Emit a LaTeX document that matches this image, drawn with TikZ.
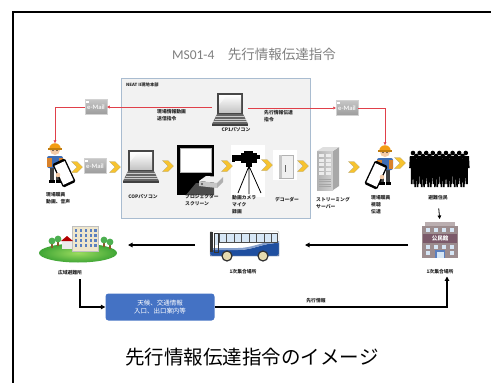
\documentclass[tikz,border=0pt]{standalone}
\usepackage{fontspec}
\setmainfont{Carlito}
\newfontfamily\jp{Noto Sans CJK JP}
\usetikzlibrary{arrows.meta,shapes.symbols,calc}

\definecolor{redline}{HTML}{E0404A}
\definecolor{yellowarrow}{HTML}{F7C32E}
\definecolor{chevedge}{HTML}{B0A070}
\definecolor{hqfill}{HTML}{F2F2F2}
\definecolor{hqedge}{HTML}{A9BCD0}
\definecolor{infoblue}{HTML}{4472C4}
\definecolor{titlegray}{HTML}{7F7F7F}
\definecolor{skin}{HTML}{F5CBA7}
\definecolor{helmet}{HTML}{F39C12}
\definecolor{shirtblue}{HTML}{3E6DB5}
\definecolor{vest}{HTML}{D9822B}
\definecolor{parklight}{HTML}{9BDB5F}
\definecolor{parkdark}{HTML}{3FA535}
\definecolor{bldgbeige}{HTML}{EFE6CC}
\definecolor{winblue}{HTML}{5A7FBF}
\definecolor{treegreen}{HTML}{4CAF50}
\definecolor{trunk}{HTML}{8B5A2B}
\definecolor{busblue}{HTML}{1F4FA0}
\definecolor{winlight}{HTML}{D6E6F5}
\definecolor{bldgmauve}{HTML}{9C8C8E}
\definecolor{signdark}{HTML}{7B5A6A}
\definecolor{wheel}{HTML}{E6DBB0}

\tikzset{
  % notebook computer, origin near the middle of the screen
  pics/laptop/.style={code={
    \fill[black!72] (-13,-17) rectangle (13,4);
    \shade[top color=white, bottom color=gray!45] (-11,-15) rectangle (11,2);
    \fill[white, opacity=0.5] (-11,-15) -- (-3,-15) -- (-11,-5) -- cycle;
    \fill[black!60] (-13,4) -- (13,4) -- (18,14) -- (-18,14) -- cycle;
    \foreach \k in {6.5,9,11.5}
      \draw[gray!40, line width=0.7pt] ({-13-(\k-4)*0.5},\k) -- ({13+(\k-4)*0.5},\k);
    \fill[black!75] (-18,14) rectangle (18,15.5);
  }},
  % field worker holding a smartphone, origin at the head centre
  pics/worker/.style={code={
    \fill[black!75] (-5,15) rectangle (-1,31);
    \fill[black!75] (1,15) rectangle (5,31);
    \fill[black] (-6,30) rectangle (-0.5,33);
    \fill[black] (0.5,30) rectangle (6,33);
    \fill[shirtblue, rounded corners=2pt] (-8,6) rectangle (8,18);
    \fill[vest] (-8,8) rectangle (-3.5,17);
    \fill[vest] (3.5,8) rectangle (8,17);
    \fill[skin] (0,0) circle[radius=5];
    \fill[black] (-2,0.5) circle[radius=0.7];
    \fill[black] (2,0.5) circle[radius=0.7];
    \fill[helmet] (-5.8,-1) arc[start angle=180, end angle=360, radius=5.8] -- cycle;
    \fill[helmet!80!black] (-7,-1.6) rectangle (7,0);
    \begin{scope}[shift={(9,23)}, rotate=25]
      \fill[black, rounded corners=1.5pt] (-7,-13) rectangle (7,13);
      \fill[white] (-5.6,-10.5) rectangle (5.6,10.5);
    \end{scope}
    \fill[skin] (3,25) circle[radius=2.3];
  }},
  % one standing silhouette, origin at the head
  pics/figure/.style={code={
    \fill (0,0) circle[radius=2.3];
    \fill (-3.2,3) -- (3.2,3) -- (3.8,15) -- (2.2,15) -- (2,31) -- (0.4,31)
          -- (0,19) -- (-0.4,31) -- (-2,31) -- (-2.2,15) -- (-3.8,15) -- cycle;
  }},
  lbl/.style={font=\jp\bfseries\fontsize{4.8}{6.9}\selectfont, align=left,
              inner sep=0pt, text=black!85},
  lblc/.style={lbl, align=center},
  icon/.style={inner sep=0pt, outer sep=0pt},
  mail/.style={top color=gray!45, bottom color=gray!78, draw=gray!35,
               line width=0.3pt, minimum width=22pt, minimum height=15pt,
               inner sep=0pt, text=white!92!gray,
               font=\bfseries\fontsize{6.6}{7}\selectfont},
  chev/.style={shape=signal, signal to=east, signal from=west,
               fill=yellowarrow, draw=chevedge, line width=0.3pt,
               minimum width=6pt, minimum height=11pt, inner sep=0pt},
  redlink/.style={draw=redline, line width=0.45pt,
                  -{Triangle[length=2.6pt,width=2.8pt]}},
  blklink/.style={draw=black, line width=1.1pt,
                  -{Triangle[length=4.5pt,width=4.5pt]}},
}

\begin{document}
\begin{tikzpicture}[x=1pt,y=-1pt]
\useasboundingbox (0,0) rectangle (491,383);
\clip (0,0) rectangle (491,383);
\fill[white] (0,0) rectangle (491,383);

% slide frame
\draw[line width=1.3pt] (13,12) rectangle (530,420);

% title
\node[text=titlegray, font=\fontsize{13.5}{14}\selectfont] (title) at (254,54)
  {MS01-4\hspace{1em}{\jp 先行情報伝達指令}};

% headquarters area
\node[draw=hqedge, fill=hqfill, line width=0.6pt, minimum width=189pt,
      minimum height=140pt, inner sep=0pt] (hq) at (215.5,148) {};
\node[lbl, font=\jp\bfseries\fontsize{4.3}{5}\selectfont, anchor=north west]
  (hqlbl) at (126,83) {NEAT II現地本部};

% CP1 computer
\node[icon, minimum width=36pt, minimum height=34pt] (cp1) at (230,110) {};
\pic at (230,110) {laptop};
\node[lblc] (cp1lbl) at (236,130) {CP1パソコン};

\node[lbl, anchor=north west] (sendcmd) at (157,109.5) {現場情報動画\\送信指令};
\node[lbl, anchor=north west] (advcmd) at (264,110) {先行情報伝達\\指令};

% e-mail boxes
\node[mail] (mailL) at (96,107) {e-Mail};
\node[mail] (mailR) at (347,108) {e-Mail};
\node[mail] (mailM) at (95,166) {e-Mail};
\foreach \m in {mailL,mailR,mailM}
  \fill[white] ([xshift=1.5pt,yshift=-1.5pt]\m.north west) rectangle +(2.4,2.4);

% left worker
\node[icon, minimum width=16pt, minimum height=50pt] (personL) at (55,168) {};
\pic at (55,150) {worker};
\node[lbl, anchor=north west] (personLlbl) at (46,192) {現場職員\\動画、音声};

% COP computer
\node[icon, minimum width=36pt, minimum height=34pt] (cop) at (141,166) {};
\pic at (141,167) {laptop};
\node[lblc] (coplbl) at (143,197) {COPパソコン};

% projector and screen
\node[icon, minimum width=38pt, minimum height=50pt] (proj) at (195,170) {};
\fill[black] (177,145) rectangle (214,195);
\fill[white] (180.5,148) rectangle (211,172);
\draw[gray!60, line width=0.3pt] (180.5,148) rectangle (211,172);
\fill[black!70] (186,195) -- (196,183) -- (214,183) -- (214,195) -- cycle;
\fill[gray!12] (199,181) -- (206,176) -- (223,177) -- (217,183) -- cycle;
\fill[gray!45] (199,181) -- (217,183) -- (217,188) -- (199,186) -- cycle;
\fill[gray!62] (217,183) -- (223,177) -- (223,182) -- (217,188) -- cycle;
\fill[black!70] (202,184) circle[radius=1.2];
\node[lbl, anchor=north west] (projlbl) at (185,194) {プロジェクター\\スクリーン};

% video camera on tripod
\node[icon, minimum width=34pt, minimum height=52pt] (cam) at (248,171) {};
\fill[white] (231,145) rectangle (265,197);
\fill[black] (241,153) rectangle (257,163);
\fill[black] (234,155) rectangle (242,161);
\fill[black] (232,154.5) rectangle (234.5,161.5);
\fill[black] (244,150.5) rectangle (253,153);
\fill[black] (257,155) rectangle (260,159);
\fill[black] (246,163) rectangle (252,167);
\draw[black, line width=0.8pt] (249,166) -- (238,193) (249,166) -- (249,194)
  (249,166) -- (261,193);
\node[lbl, anchor=north west] (camlbl) at (232,195) {動画カメラ\\マイク\\録画};

% decoder
\node[icon, minimum width=24pt, minimum height=30pt] (dec) at (285,165) {};
\fill[white] (273,150) rectangle (297,180);
\fill[gray!12] (279,155) rectangle (293,178);
\draw[gray!60, line width=0.4pt] (279,155) rectangle (293,178);
\fill[gray!45] (279,155) rectangle (282,178);
\fill[black!60] (285,165) rectangle (286.2,172);
\node[lblc] (declbl) at (287,200) {デコーダー};

% streaming server
\node[icon, minimum width=22pt, minimum height=43pt] (srv) at (328,168.5) {};
\shade[left color=gray!60, right color=gray!35] (317,151) rectangle (333,190);
\fill[gray!68] (333,151) -- (339,147) -- (339,186) -- (333,190) -- cycle;
\fill[gray!25] (317,151) -- (323,147) -- (339,147) -- (333,151) -- cycle;
\foreach \r in {0,...,4} {
  \fill[gray!15] (319,{154+\r*4.5}) rectangle +(5,3);
  \fill[gray!15] (326,{154+\r*4.5}) rectangle +(5,3);
}
\foreach \r in {0,...,3}
  \draw[gray!70, line width=0.4pt] (319,{179+\r*2.5}) -- (331,{179+\r*2.5});
\node[lbl, anchor=north west] (srvlbl) at (316,197) {ストリーミング\\サーバー};

% right worker
\node[icon, minimum width=16pt, minimum height=50pt] (personR) at (385,170) {};
\pic[xscale=-1] at (385,152) {worker};
\node[lbl, anchor=north west] (personRlbl) at (371,195) {現場職員\\視聴\\伝達};

% evacuees
\node[icon, minimum width=62pt, minimum height=42pt] (crowd) at (439,168) {};
\fill[white] (408,147) rectangle (470,189);
\foreach \i in {0,...,8} \pic at ({413+\i*6.6},153) {figure};
\foreach \i in {0,...,7} \pic at ({416.3+\i*6.6},156) {figure};
\node[lblc] (crowdlbl) at (438,198) {避難住民};

% yellow flow arrows
\node[chev] (ch1) at (77,167) {};
\node[chev] (ch2) at (115,167) {};
\node[chev] (ch3) at (168,166) {};
\node[chev] (ch4) at (227,166) {};
\node[chev] (ch5) at (267,165) {};
\node[chev] (ch6) at (303,166) {};
\node[chev] (ch7) at (354,167) {};
\node[chev] (ch8) at (400,163) {};

% e-mail links
\draw[redlink] (cp1.west |- mailL.east) -- (mailL.east);
\draw[redlink] (mailL.west) -| (personL.north);
\draw[redlink] (cp1.east |- mailR.west) -- (mailR.west);
\draw[redlink] (mailR.east) -| (personR.north);

% wide-area shelter
\node[icon, minimum width=89pt, minimum height=42pt] (park) at (77.5,246) {};
\fill[white] (33,225) rectangle (122,267);
\shade[inner color=parklight, outer color=parkdark] (78,253)
  ellipse[x radius=39, y radius=9.5];
\fill[bldgbeige] (72,226) rectangle (98,251);
\draw[gray!50, line width=0.3pt] (72,226) rectangle (98,251);
\foreach \c in {74.5,79.5,84.5,89.5,94}
  \foreach \r in {229,234,239,244}
    \fill[winblue] (\c,\r) rectangle +(2.8,2.8);
\fill[white!85!gray] (62,241) rectangle (72,249);
\fill[red!70!black] (61,241) -- (67,236) -- (73,241) -- cycle;
\foreach \tx/\ty in {52/241,58/239,104/240,110/242} {
  \fill[trunk] (\tx-0.6,\ty) rectangle (\tx+0.6,\ty+7);
  \fill[treegreen] (\tx,\ty) circle[radius=3.4];
}
\node[lblc] (parklbl) at (70,273) {広域避難所};

% bus
\node[icon, minimum width=70pt, minimum height=30pt] (bus) at (244,245) {};
\fill[white] (210,231) rectangle (279,256);
\fill[busblue] (210,250) -- (238,250) .. controls (254,250) and (262,243) .. (279,243)
  -- (279,256) -- (210,256) -- cycle;
\fill[busblue!55] (210,248) -- (238,248) .. controls (254,248) and (262,241) .. (279,241)
  -- (279,243) .. controls (262,243) and (254,250) .. (238,250) -- (210,250) -- cycle;
\draw[gray!60, line width=0.4pt, rounded corners=2pt] (210,231) rectangle (279,256);
\fill[winlight] (219,233) rectangle (277,242);
\draw[black!70, line width=0.5pt] (219,233) rectangle (277,242);
\foreach \x in {226.5,234,241.5,249,256.5,264,271.5}
  \draw[black!70, line width=0.5pt] (\x,233) -- (\x,242);
\fill[black!80] (210,232) rectangle (213,252);
\draw[black!80, line width=0.6pt] (214,233) rectangle (218,252);
\fill[winlight] (214.5,233.5) rectangle (217.5,245);
\fill[wheel] (227,256) circle[radius=5];
\draw[black!80, line width=1.2pt] (227,256) circle[radius=5];
\fill[wheel] (263,256) circle[radius=5];
\draw[black!80, line width=1.2pt] (263,256) circle[radius=5];
\node[lblc] (buslbl) at (243,272) {1次集合場所};

% first assembly point building
\node[icon, minimum width=36pt, minimum height=36pt] (bldg) at (440,240) {};
\fill[bldgmauve!70] (425,222) rectangle (455,226);
\fill[bldgmauve] (422,226) rectangle (458,258);
\foreach \c in {426,434,442,450}
  \fill[winlight] (\c,228) rectangle +(4,4);
\fill[signdark] (423,234) rectangle (457,243);
\node[text=white, font=\jp\bfseries\fontsize{5.5}{6}\selectfont, inner sep=0pt]
  (signtxt) at (440,238.5) {公民館};
\foreach \c in {426,434,442,450}
  \fill[winlight] (\c,245) rectangle +(4,4);
\fill[winlight] (426,251) rectangle +(4,4);
\fill[winlight] (450,251) rectangle +(4,4);
\fill[winblue] (435,250) rectangle (445,258);
\fill[winlight] (436.5,252) rectangle (443.5,258);
\node[lblc] (bldglbl) at (440,272) {1次集合場所};

% information box
\node[rounded corners=3pt, fill=infoblue, minimum width=109pt, minimum height=27pt,
      text=white, font=\jp\fontsize{6.5}{8.5}\selectfont, align=center,
      inner sep=0pt] (info) at (160,307) {天候、交通情報\\入口、出口案内等};
\node[lblc] (advlbl) at (316,301) {先行情報};

% movement and information flow
\draw[blklink, line width=0.8pt, -{Triangle[length=3.5pt,width=3.5pt]},
      shorten <=8pt, shorten >=3pt] (crowdlbl.south) -- (bldg.north);
\draw[blklink, shorten <=14pt, shorten >=26pt] (bldg.west |- bus.east) -- (bus.east);
\draw[blklink, shorten <=14pt, shorten >=6pt] (bus.west) -- (park.east |- bus.west);
\draw[blklink, shorten <=4pt] ($(parklbl.south)+(10,0)$) |- (info.west);
\draw[blklink, shorten >=2pt] (info.east) -| ($(bldglbl.south)+(7,0)$);

% caption
\node[font=\jp\fontsize{19.5}{20}\selectfont] (caption) at (252,357)
  {先行情報伝達指令のイメージ};
\end{tikzpicture}
\end{document}
